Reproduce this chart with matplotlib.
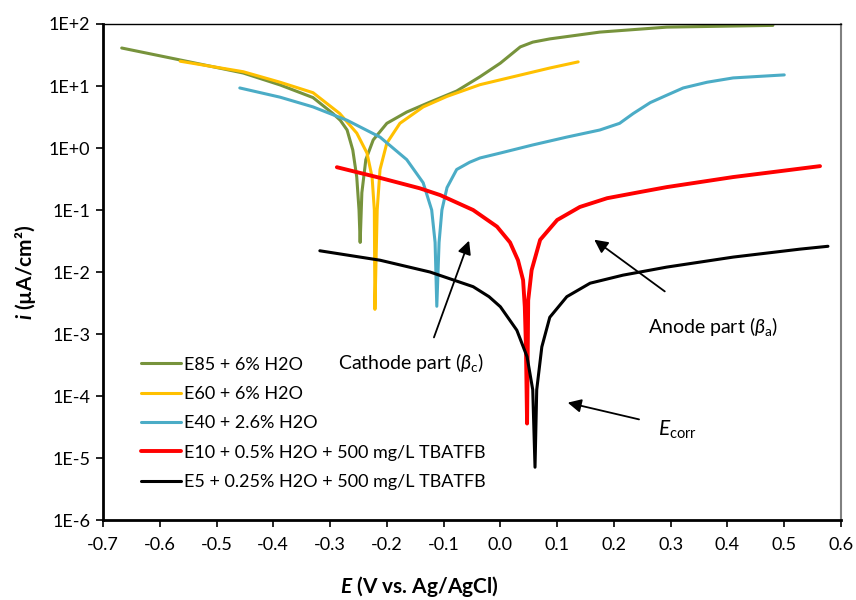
import matplotlib
matplotlib.use('Agg')
import matplotlib.pyplot as plt
from matplotlib.ticker import FixedLocator, FixedFormatter

plt.rcParams['font.family'] = ['Lato', 'DejaVu Sans']
plt.rcParams['mathtext.fontset'] = 'custom'
plt.rcParams['mathtext.rm'] = 'Lato'
plt.rcParams['mathtext.it'] = 'Lato:italic'
plt.rcParams['mathtext.bf'] = 'Lato:bold'
plt.rcParams['mathtext.bfit'] = 'Lato:bold:italic'

# potential (V vs Ag/AgCl) and current density (uA/cm2)
e85_E = [-0.667, -0.564, -0.453, -0.388, -0.330, -0.295, -0.282, -0.270, -0.260, -0.253,
         -0.249, -0.247, -0.244, -0.237, -0.224, -0.200, -0.165, -0.124, -0.077, -0.036,
         0.0, 0.035, 0.057, 0.087, 0.175, 0.293, 0.48]
e85_i = [41, 26.3, 16.2, 10.4, 6.5, 3.6, 2.8, 1.95, 0.93, 0.34,
         0.10, 0.030, 0.19, 0.65, 1.35, 2.5, 3.8, 5.5, 8.3, 14.1,
         23.4, 42.7, 51, 57.5, 74, 89, 95]

e60_E = [-0.564, -0.453, -0.388, -0.330, -0.283, -0.253, -0.235, -0.226, -0.222, -0.221,
         -0.217, -0.212, -0.200, -0.177, -0.136, -0.094, -0.036, 0.087, 0.137]
e60_i = [25.1, 17.0, 11.5, 7.8, 3.6, 1.74, 0.83, 0.34, 0.10, 0.0025,
         0.10, 0.45, 1.2, 2.5, 4.6, 6.8, 10.5, 19.5, 24.5]

e40_E = [-0.459, -0.388, -0.330, -0.270, -0.212, -0.165, -0.136, -0.121, -0.115, -0.112,
         -0.108, -0.103, -0.094, -0.077, -0.054, -0.036, 0.0, 0.057, 0.117, 0.175,
         0.21, 0.234, 0.264, 0.293, 0.322, 0.364, 0.41, 0.50]
e40_i = [9.3, 6.6, 4.6, 2.8, 1.5, 0.65, 0.275, 0.10, 0.030, 0.0028,
         0.030, 0.10, 0.23, 0.45, 0.59, 0.69, 0.83, 1.12, 1.5, 1.95,
         2.5, 3.6, 5.4, 7.1, 9.3, 11.5, 13.5, 15.1]

e10_E = [-0.288, -0.212, -0.142, -0.106, -0.048, -0.006, 0.017, 0.031, 0.040, 0.043,
         0.045, 0.047, 0.049, 0.055, 0.070, 0.100, 0.140, 0.188, 0.246, 0.293,
         0.41, 0.563]
e10_i = [0.49, 0.33, 0.224, 0.174, 0.10, 0.054, 0.030, 0.0155, 0.0074, 0.00275,
         0.00063, 3.6e-5, 0.0035, 0.0107, 0.033, 0.069, 0.112, 0.155, 0.195, 0.234,
         0.34, 0.51]

e5_E = [-0.318, -0.212, -0.124, -0.048, -0.020, 0.0, 0.029, 0.047, 0.057, 0.061,
        0.064, 0.073, 0.087, 0.117, 0.158, 0.216, 0.293, 0.41, 0.528, 0.577]
e5_i = [0.022, 0.0155, 0.010, 0.0058, 0.0040, 0.00275, 0.00115, 0.00043, 0.000126, 7.1e-6,
        0.000126, 0.00062, 0.00186, 0.0040, 0.0066, 0.0089, 0.012, 0.0174, 0.0234, 0.026]

labels = ['E85 + 6% H2O', 'E60 + 6% H2O', 'E40 + 2.6% H2O',
          'E10 + 0.5% H2O + 500 mg/L TBATFB', 'E5 + 0.25% H2O + 500 mg/L TBATFB']
colors = ['#77933C', '#FFC000', '#4BACC6', '#FF0000', '#000000']

x_ticks = [-0.7, -0.6, -0.5, -0.4, -0.3, -0.2, -0.1, 0.0, 0.1, 0.2, 0.3, 0.4, 0.5, 0.6]
y_ticks = [1e-6, 1e-5, 1e-4, 1e-3, 1e-2, 1e-1, 1e0, 1e1, 1e2]
y_tick_labels = ['1E-6', '1E-5', '1E-4', '1E-3', '1E-2', '1E-1', '1E+0', '1E+1', '1E+2']

fig = plt.figure(figsize=(8.56, 6.0), dpi=100)
ax = fig.add_axes([0.1203, 0.1333, 0.8622, 0.8267])

series = [(e85_E, e85_i), (e60_E, e60_i), (e40_E, e40_i), (e10_E, e10_i), (e5_E, e5_i)]
for (E, i), lab, c in zip(series, labels, colors):
    lw = 2.8 if c == '#FF0000' else 2.2
    ax.plot(E, i, color=c, lw=lw, label=lab, solid_capstyle='round', solid_joinstyle='round')

ax.set_yscale('log')
ax.set_xlim(-0.7, 0.6)
ax.set_ylim(1e-6, 1e2)
ax.xaxis.set_major_locator(FixedLocator(x_ticks))
ax.set_xticklabels(['%.1f' % v for v in x_ticks])
ax.yaxis.set_major_locator(FixedLocator(y_ticks))
ax.yaxis.set_major_formatter(FixedFormatter(y_tick_labels))
ax.yaxis.set_minor_locator(FixedLocator([]))
ax.tick_params(axis='both', labelsize=13, direction='out', length=5, width=1.2)
ax.tick_params(axis='x', pad=7)
ax.tick_params(axis='y', pad=4)

for s in ['left', 'bottom']:
    ax.spines[s].set_linewidth(2)
ax.spines['top'].set_linewidth(1)
ax.spines['right'].set_linewidth(1.5)
ax.spines['right'].set_color('#808080')

ax.set_ylabel(r'$\mathbfit{i}$ (µA/cm²)', fontsize=15, fontweight='bold', labelpad=8)
fig.text(419 / 856, 0.022, r'$\mathbfit{E}$ (V vs. Ag/AgCl)', fontsize=15,
         fontweight='bold', ha='center', va='center')

ax.legend(loc='upper left', bbox_to_anchor=(0.03, 0.362), frameon=False, fontsize=13,
          handlelength=2.2, labelspacing=0.74, handletextpad=0.15)

arr = dict(arrowstyle='-|>', color='black', lw=1.3, mutation_scale=20)
ax.text(-0.157, 3.5e-4, r'Cathode part ($\mathit{\beta}_{\mathrm{c}}$)', fontsize=14,
        ha='center', va='center')
ax.annotate('', xy=(-0.0535, 0.0353), xytext=(-0.1187, 8.0e-4), arrowprops=arr)
ax.text(0.3745, 1.30e-3, r'Anode part ($\mathit{\beta}_{\mathrm{a}}$)', fontsize=14,
        ha='center', va='center')
ax.annotate('', xy=(0.1614, 0.0353), xytext=(0.2935, 4.58e-3), arrowprops=arr)
ax.text(0.2776, 2.83e-5, r'$\mathit{E}_{\mathrm{corr}}$', fontsize=15,
        ha='left', va='center')
ax.annotate('', xy=(0.1138, 8.0e-5), xytext=(0.249, 4.1e-5), arrowprops=arr)

fig.savefig('out.png', dpi=100)
